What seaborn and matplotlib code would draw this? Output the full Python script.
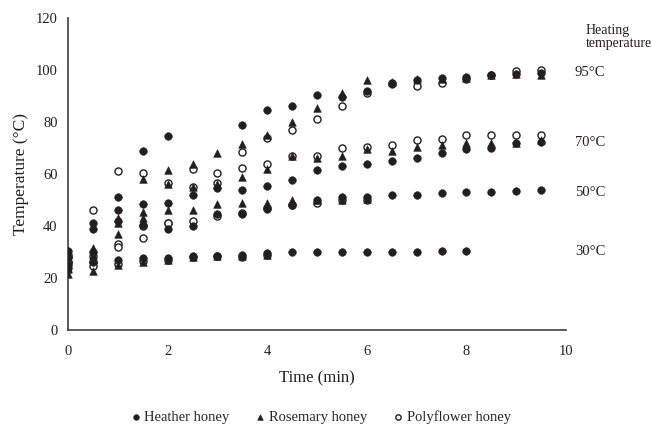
import numpy as np
import pandas as pd
import matplotlib
matplotlib.use('Agg')
import matplotlib.pyplot as plt
import seaborn as sns

nan = np.nan

# time points (min)
time = [0, 0.5, 1, 1.5, 2, 2.5, 3, 3.5, 4, 4.5, 5, 5.5, 6, 6.5, 7, 7.5, 8, 8.5, 9, 9.5]

# heather honey
heather_95 = [30.5, 41, 51, 69, 74.5, nan, nan, 79, 84.5, 86, 90.5, 89.5, 92, 94.5, 96, 97, 97.5, 98, 98.5, 99]
heather_70 = [28, 39, 46, 48.5, 49, 52, 54.5, 54, 55.5, 57.5, 61.5, 63, 64, 65, 66, 68, 69.5, 70, 72, 72.5]
heather_50 = [25, 30, 42, 40.5, 39, 40, 44.5, 44.5, 46.5, 48, 50, 51, 51, 52, 52, 52.5, 53, 53, 53.5, 54]
heather_30 = [24, 26, 27, 27.5, 27.5, 28.5, 28.5, 29, 29.5, 30, 30, 30, 30, 30, 30, 30.5, 30.5, nan, nan, nan]

# rosemary honey
rosemary_95 = [23.5, 31.5, 43, 58, 61.5, 64, 68, 71.5, 75, 80, 85.5, 91, 96, 95.5, 96.5, 96.5, 97, 98, 98.5, 98]
rosemary_70 = [24, 29, 41, 45.5, 56, 55, 56, 59, 62, 67, 66, 67, 69.5, 69, 70.5, 71, 72, 72, 72, 73]
rosemary_50 = [27, 27.5, 37, 43, 46, 46, 48.5, 49, 49, 50, 50, 50, 50.5, nan, nan, nan, nan, nan, nan, nan]
rosemary_30 = [21.5, 22.5, 25, 26, 27, 28, 28.5, 28.5, 29, nan, nan, nan, nan, nan, nan, nan, nan, nan, nan, nan]

# polyflower honey
polyflower_95 = [26, 46, 61, 60.5, 56.5, 62, 60.5, 68.5, 74, 77, 81, 86, 91, 95, 94, 95, 96.5, 98, 99.5, 100]
polyflower_70 = [28, 28.5, 33, 35.5, 41, 55, 56.5, 62.5, 64, 67, 67, 70, 70.5, 71, 73, 73.5, 75, 75, 75, 75]
polyflower_50 = [29, 26, 32, 40, 41, 42, 44, 45, 47, 48, 49, 50, 50, nan, nan, nan, nan, nan, nan, nan]
polyflower_30 = [26, 24.5, 25.5, 26.5, 27, 28, 28.5, 28, 29, nan, nan, nan, nan, nan, nan, nan, nan, nan, nan, nan]

honeys = ['Heather honey', 'Rosemary honey', 'Polyflower honey']
heating_labels = ['95°C', '70°C', '50°C', '30°C']
heating_label_y = [99, 72, 53, 30]

series = [
    ('Heather honey', 95, heather_95), ('Heather honey', 70, heather_70),
    ('Heather honey', 50, heather_50), ('Heather honey', 30, heather_30),
    ('Rosemary honey', 95, rosemary_95), ('Rosemary honey', 70, rosemary_70),
    ('Rosemary honey', 50, rosemary_50), ('Rosemary honey', 30, rosemary_30),
    ('Polyflower honey', 95, polyflower_95), ('Polyflower honey', 70, polyflower_70),
    ('Polyflower honey', 50, polyflower_50), ('Polyflower honey', 30, polyflower_30),
]
rows = []
for honey, heat, vals in series:
    for t, v in zip(time, vals):
        rows.append((honey, heat, t, v))
df = pd.DataFrame(rows, columns=['honey', 'heating', 'time', 'temp']).dropna()

sns.set_style('white')
plt.rcParams['font.family'] = ['Liberation Serif', 'DejaVu Serif']
ink = '#231f20'

fig = plt.figure(figsize=(6.52, 4.26), dpi=100)
ax = fig.add_axes([0.1043, 0.2254, 0.7638, 0.7323])

# polyflower first so the filled markers sit on top
sns.scatterplot(data=df[df.honey == 'Polyflower honey'], x='time', y='temp', marker='o',
                color='white', edgecolor=ink, linewidth=1.0, s=26, ax=ax,
                label='Polyflower honey', zorder=3)
sns.scatterplot(data=df[df.honey == 'Rosemary honey'], x='time', y='temp', marker='^',
                color=ink, edgecolor=ink, linewidth=0.4, s=30, ax=ax,
                label='Rosemary honey', zorder=4)
sns.scatterplot(data=df[df.honey == 'Heather honey'], x='time', y='temp', marker='o',
                color=ink, edgecolor=ink, linewidth=0.4, s=30, ax=ax,
                label='Heather honey', zorder=5)

ax.set_xlim(0, 10)
ax.set_ylim(0, 120)
ax.set_xticks([0, 2, 4, 6, 8, 10])
ax.set_yticks([0, 20, 40, 60, 80, 100, 120])
ax.set_xlabel('Time (min)', fontsize=12, color=ink, labelpad=9)
ax.set_ylabel('Temperature (°C)', fontsize=12.5, color=ink, labelpad=5)
ax.tick_params(direction='out', length=4, width=1, colors='#404040',
               labelcolor=ink, labelsize=10.5)
ax.tick_params(axis='x', pad=7)
for s in ['top', 'right']:
    ax.spines[s].set_visible(False)
for s in ['left', 'bottom']:
    ax.spines[s].set_color('#404040')
    ax.spines[s].set_linewidth(1.2)

for lab, y in zip(heating_labels, heating_label_y):
    ax.text(10.18, y, lab, ha='left', va='center', fontsize=10.5, color=ink, clip_on=False)
ax.text(10.4, 115.2, 'Heating', ha='left', va='center', fontsize=10, color=ink, clip_on=False)
ax.text(10.4, 110.2, 'temperature', ha='left', va='center', fontsize=10, color=ink, clip_on=False)

handles, labels = ax.get_legend_handles_labels()
order = [labels.index(h) for h in honeys]
ax.legend([handles[i] for i in order], [labels[i] for i in order],
          loc='center', bbox_to_anchor=(0.49, 0.022), bbox_transform=fig.transFigure,
          ncol=3, frameon=False, fontsize=10.5, markerscale=0.75,
          handletextpad=0.1, columnspacing=1.6, handlelength=1.0)

fig.savefig('out.png', dpi=100)
